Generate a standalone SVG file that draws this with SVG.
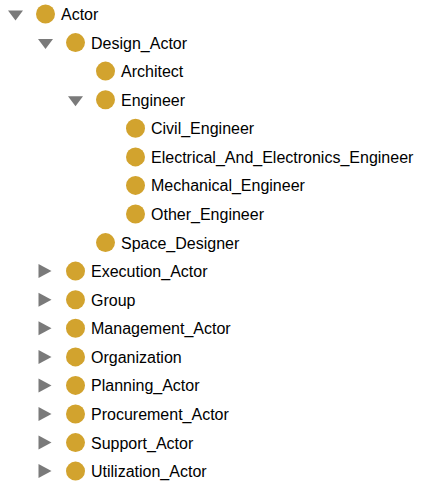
<svg xmlns="http://www.w3.org/2000/svg" width="422" height="488" viewBox="0 0 422 488">
<style>
.bg{fill:#ffffff}
.dot{fill:#D2A32E}
.lbl{font-family:"Liberation Sans",Arial,sans-serif;font-size:16px;fill:#000000}
.tri{fill:#7a7a7a}
</style>
<defs>
<polygon id="down" class="tri" points="-7.5,-3.5 7.5,-3.5 0,6.5"/>
<polygon id="right" class="tri" points="-6.5,-7 -6.5,7 6.5,0"/>
</defs>
<rect class="bg" x="0" y="0" width="422" height="488"/>
<g id="connectors"></g>
<g id="n-actor" transform="translate(45.5,14)">
<use href="#down" x="-30" y="0"/><circle class="dot" r="9.5"/><text class="lbl" x="15.5" y="6">Actor</text></g>
<g id="n-design-actor" transform="translate(75.5,42.6)">
<use href="#down" x="-30" y="0"/><circle class="dot" r="9.5"/><text class="lbl" x="15.5" y="6">Design_Actor</text></g>
<g id="n-architect" transform="translate(105.5,71.1)">
<circle class="dot" r="9.5"/><text class="lbl" x="15.5" y="6">Architect</text></g>
<g id="n-engineer" transform="translate(105.5,99.7)">
<use href="#down" x="-30" y="0"/><circle class="dot" r="9.5"/><text class="lbl" x="15.5" y="6">Engineer</text></g>
<g id="n-civil" transform="translate(135.5,128.3)">
<circle class="dot" r="9.5"/><text class="lbl" x="15.5" y="6">Civil_Engineer</text></g>
<g id="n-electrical" transform="translate(135.5,156.9)">
<circle class="dot" r="9.5"/><text class="lbl" x="15.5" y="6">Electrical_And_Electronics_Engineer</text></g>
<g id="n-mechanical" transform="translate(135.5,185.4)">
<circle class="dot" r="9.5"/><text class="lbl" x="15.5" y="6">Mechanical_Engineer</text></g>
<g id="n-other" transform="translate(135.5,214)">
<circle class="dot" r="9.5"/><text class="lbl" x="15.5" y="6">Other_Engineer</text></g>
<g id="n-space" transform="translate(105.5,242.6)">
<circle class="dot" r="9.5"/><text class="lbl" x="15.5" y="6">Space_Designer</text></g>
<g id="n-execution" transform="translate(75.5,271.1)">
<use href="#right" x="-30.5" y="0"/><circle class="dot" r="9.5"/><text class="lbl" x="15.5" y="6">Execution_Actor</text></g>
<g id="n-group" transform="translate(75.5,299.7)">
<use href="#right" x="-30.5" y="0"/><circle class="dot" r="9.5"/><text class="lbl" x="15.5" y="6">Group</text></g>
<g id="n-management" transform="translate(75.5,328.3)">
<use href="#right" x="-30.5" y="0"/><circle class="dot" r="9.5"/><text class="lbl" x="15.5" y="6">Management_Actor</text></g>
<g id="n-organization" transform="translate(75.5,356.9)">
<use href="#right" x="-30.5" y="0"/><circle class="dot" r="9.5"/><text class="lbl" x="15.5" y="6">Organization</text></g>
<g id="n-planning" transform="translate(75.5,385.4)">
<use href="#right" x="-30.5" y="0"/><circle class="dot" r="9.5"/><text class="lbl" x="15.5" y="6">Planning_Actor</text></g>
<g id="n-procurement" transform="translate(75.5,414)">
<use href="#right" x="-30.5" y="0"/><circle class="dot" r="9.5"/><text class="lbl" x="15.5" y="6">Procurement_Actor</text></g>
<g id="n-support" transform="translate(75.5,442.6)">
<use href="#right" x="-30.5" y="0"/><circle class="dot" r="9.5"/><text class="lbl" x="15.5" y="6">Support_Actor</text></g>
<g id="n-utilization" transform="translate(75.5,471.1)">
<use href="#right" x="-30.5" y="0"/><circle class="dot" r="9.5"/><text class="lbl" x="15.5" y="6">Utilization_Actor</text></g>
</svg>
